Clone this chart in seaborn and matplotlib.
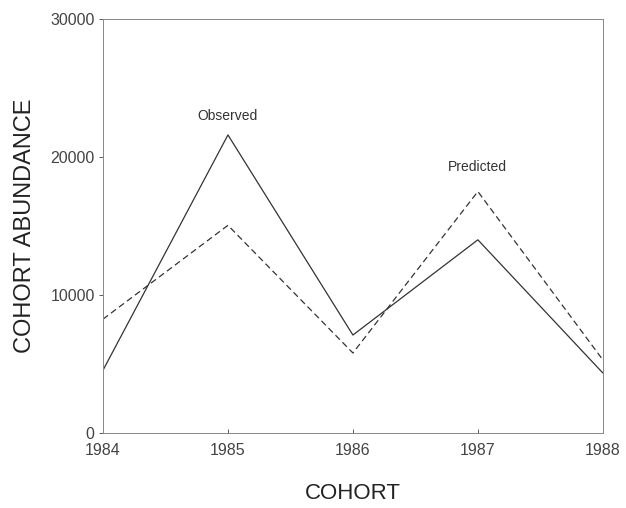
import pandas as pd
import seaborn as sns
import matplotlib.pyplot as plt

cohort = [1984, 1985, 1986, 1987, 1988]
observed = [4550, 21600, 7100, 14000, 4350]
predicted = [8250, 15050, 5800, 17500, 5300]

sns.set_style('ticks')
plt.rcParams['font.family'] = ['Liberation Sans', 'DejaVu Sans']

df = pd.DataFrame({'cohort': cohort * 2,
                   'abundance': observed + predicted,
                   'series': ['Observed'] * 5 + ['Predicted'] * 5})

fig = plt.figure(figsize=(6.26, 5.08), dpi=100)
ax = fig.add_axes([0.1645, 0.1476, 0.7985, 0.815])
sns.lineplot(data=df, x='cohort', y='abundance', style='series',
             dashes={'Observed': '', 'Predicted': (5, 3)},
             color='#333333', linewidth=0.9, legend=False, ax=ax)

ax.set_xlim(1984, 1988)
ax.set_ylim(0, 30000)
ax.set_xticks(cohort)
ax.set_yticks([0, 10000, 20000, 30000])
ax.tick_params(labelsize=11.5, colors='#444444', length=3, width=0.6)
ax.tick_params(axis='x', direction='in', pad=7)
ax.tick_params(axis='y', pad=3)
for s in ax.spines.values():
    s.set_color('#888888')
    s.set_linewidth(0.7)

ax.set_xlabel('COHORT', fontsize=16, color='#222222', labelpad=18)
ax.set_ylabel('COHORT ABUNDANCE', fontsize=17, color='#222222', labelpad=10)

ax.text(1985, 23000, 'Observed', ha='center', va='center', fontsize=10, color='#333333')
ax.text(1987, 19300, 'Predicted', ha='center', va='center', fontsize=10, color='#333333')

fig.savefig('out.png', dpi=100)
